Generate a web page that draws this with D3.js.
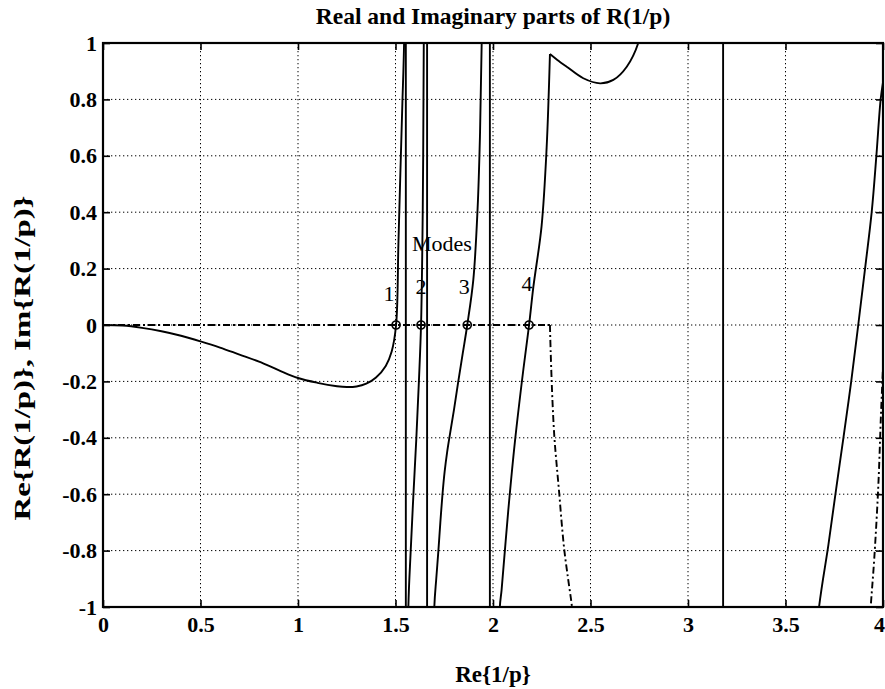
<!DOCTYPE html>
<html><head><meta charset="utf-8">
<script src="https://cdn.jsdelivr.net/npm/d3@7"></script>
<style>
body{margin:0;background:#fff;}
text{font-family:"Liberation Serif","Times New Roman",serif;fill:#000;}
</style></head>
<body><svg id="c" width="885" height="689"></svg>
<script>
// ---- data ----
const xTicks = [0, 0.5, 1, 1.5, 2, 2.5, 3, 3.5, 4];
const xTickLabels = ["0", "0.5", "1", "1.5", "2", "2.5", "3", "3.5", "4"];
const yTicks = [-1, -0.8, -0.6, -0.4, -0.2, 0, 0.2, 0.4, 0.6, 0.8, 1];
const yTickLabels = ["-1", "-0.8", "-0.6", "-0.4", "-0.2", "0", "0.2", "0.4", "0.6", "0.8", "1"];

// Real part (solid); null separates branches, values beyond +/-1 are clipped
const realX = [0,0.1,0.2,0.3,0.4,0.5,0.6,0.7,0.8,0.9,1.0,1.1,1.2,1.25,1.3,1.35,1.4,1.45,1.48,1.503,1.515,1.525,1.535,1.544,1.55, null,
  1.562,1.566,1.578,1.592,1.607,1.62,1.631,1.638,1.642,1.645,1.652, null,
  1.688,1.699,1.709,1.72,1.73,1.741,1.752,1.765,1.781,1.8,1.822,1.845,1.868,1.899,1.921,1.933,1.942,1.955, null,
  2.025,2.035,2.044,2.078,2.113,2.156,2.185,2.207,2.249,2.275,2.292, null,
  2.292,2.33,2.378,2.463,2.549,2.617,2.686,2.745,2.8, null,
  3.6,3.672,3.72,3.76,3.797,3.837,3.873,3.908,3.942,3.966,3.988,4.0];
const realY = [0,-0.002,-0.01,-0.022,-0.038,-0.058,-0.08,-0.105,-0.13,-0.16,-0.188,-0.205,-0.217,-0.22,-0.218,-0.208,-0.186,-0.145,-0.095,0,0.29,0.54,0.78,1.0,1.6, null,
  -1.6,-1.0,-0.8,-0.6,-0.4,-0.2,0,0.3,0.6,1.0,1.6, null,
  -1.6,-1.0,-0.9,-0.8,-0.7,-0.6,-0.52,-0.45,-0.38,-0.3,-0.2,-0.1,0,0.16,0.413,0.667,1.0,1.6, null,
  -1.6,-1.0,-0.94,-0.66,-0.41,-0.156,0,0.135,0.35,0.628,0.961, null,
  0.961,0.94,0.916,0.875,0.857,0.869,0.916,1.0,1.2, null,
  -1.5,-1.0,-0.78,-0.58,-0.4,-0.2,0,0.2,0.4,0.6,0.8,0.86];
// Poles of the real part (drawn as full-height vertical jumps)
const poleX = [1.553, 1.662, 1.984, 3.18];

// Imaginary part (dash-dot)
const imagX = [0,2.292, null, 2.292,2.296,2.305,2.315,2.327,2.34,2.352,2.366,2.385,2.405,2.43, null, 3.92,3.937,3.955,3.976,3.99,4.0];
const imagY = [0,0, null, 0,-0.1,-0.27,-0.4,-0.5,-0.6,-0.7,-0.8,-0.9,-1.0,-1.2, null, -1.2,-1.0,-0.83,-0.57,-0.31,-0.15];

// Modes (zeros of the real part)
const modeX = [1.503, 1.631, 1.868, 2.185];
const modeY = [0, 0, 0, 0];
const modeLabels = ["1", "2", "3", "4"];

// ---- helpers ----
function branches(xs, ys) {
  const out = []; let cur = [];
  xs.forEach((v, i) => {
    if (v === null) { if (cur.length) out.push(cur); cur = []; }
    else cur.push([v, ys[i]]);
  });
  if (cur.length) out.push(cur);
  return out;
}

// ---- drawing ----
const svg = d3.select("#c");
const L = 103, R = 883, T = 43, B = 607;
const x = d3.scaleLinear().domain([0, 4]).range([L, R]);
const y = d3.scaleLinear().domain([-1, 1]).range([B, T]);
const FONT = "'Liberation Serif', 'Times New Roman', serif";

svg.append("defs").append("clipPath").attr("id", "clip")
  .append("rect").attr("x", L).attr("y", T).attr("width", R - L).attr("height", B - T);

// grid
const grid = svg.append("g").attr("stroke", "#000").attr("stroke-width", 1).attr("stroke-dasharray", "1.3,2.7");
grid.selectAll("line.gx").data(xTicks.slice(1, -1)).join("line")
  .attr("x1", d => x(d)).attr("x2", d => x(d)).attr("y1", T).attr("y2", B);
grid.selectAll("line.gy").data(yTicks.slice(1, -1)).join("line")
  .attr("y1", d => y(d)).attr("y2", d => y(d)).attr("x1", L).attr("x2", R);

// axes (inward ticks)
const ax = svg.append("g").attr("transform", `translate(0,${B})`)
  .call(d3.axisBottom(x).tickValues(xTicks).tickFormat((d, i) => xTickLabels[i]).tickSizeInner(-7).tickSizeOuter(0).tickPadding(9));
const axT = svg.append("g").attr("transform", `translate(0,${T})`)
  .call(d3.axisTop(x).tickValues(xTicks).tickFormat("").tickSizeInner(-7).tickSizeOuter(0));
const ay = svg.append("g").attr("transform", `translate(${L},0)`)
  .call(d3.axisLeft(y).tickValues(yTicks).tickFormat((d, i) => yTickLabels[i]).tickSizeInner(-7).tickSizeOuter(0).tickPadding(6));
const ayR = svg.append("g").attr("transform", `translate(${R},0)`)
  .call(d3.axisRight(y).tickValues(yTicks).tickFormat("").tickSizeInner(-7).tickSizeOuter(0));
[ax, axT, ay, ayR].forEach(g => {
  g.select(".domain").remove();
  g.selectAll(".tick line").attr("stroke", "#000").attr("stroke-width", 1.6);
  g.selectAll("text").style("font-size", "22px").style("font-weight", "bold")
    .style("font-family", FONT).attr("fill", "#000");
});
// keep the last x label inside the window
ax.selectAll(".tick text").filter((d, i) => i === xTicks.length - 1).attr("dx", "-4");

// curves
const line = d3.line().x(d => x(d[0])).y(d => y(d[1])).curve(d3.curveCatmullRom.alpha(0.5));
const plot = svg.append("g").attr("clip-path", "url(#clip)");
plot.selectAll("path.im").data(branches(imagX, imagY)).join("path")
  .attr("d", line).attr("fill", "none").attr("stroke", "#000").attr("stroke-width", 1.9)
  .attr("stroke-dasharray", "7,3,2,3");
plot.selectAll("path.re").data(branches(realX, realY)).join("path")
  .attr("d", line).attr("fill", "none").attr("stroke", "#000").attr("stroke-width", 1.9)
  .attr("stroke-linejoin", "round");
plot.selectAll("line.pole").data(poleX).join("line")
  .attr("x1", d => x(d)).attr("x2", d => x(d)).attr("y1", y(1)).attr("y2", y(-1))
  .attr("stroke", "#000").attr("stroke-width", 1.9);

// frame
svg.append("rect").attr("x", L).attr("y", T).attr("width", R - L).attr("height", B - T)
  .attr("fill", "none").attr("stroke", "#000").attr("stroke-width", 2.2);

// mode markers
svg.selectAll("circle.m").data(modeX).join("circle")
  .attr("cx", d => x(d)).attr("cy", (d, i) => y(modeY[i])).attr("r", 4)
  .attr("fill", "none").attr("stroke", "#000").attr("stroke-width", 1.7);
const labelDx = [-7, 0, -3, -2];
const labelDy = [-24, -31, -31, -34];
svg.selectAll("text.ml").data(modeX).join("text")
  .attr("x", (d, i) => x(d) + labelDx[i]).attr("y", (d, i) => y(modeY[i]) + labelDy[i])
  .attr("text-anchor", "middle").style("font-size", "22px").text((d, i) => modeLabels[i]);
svg.append("text").attr("x", 442).attr("y", y(0.263))
  .attr("text-anchor", "middle").style("font-size", "22px").text("Modes");

// titles
svg.append("text").attr("x", (L + R) / 2).attr("y", 24).attr("text-anchor", "middle")
  .style("font-size", "23.5px").style("font-weight", "bold").text("Real and Imaginary parts of R(1/p)");
svg.append("text").attr("x", (L + R) / 2).attr("y", 682).attr("text-anchor", "middle")
  .style("font-size", "23px").style("font-weight", "bold").text("Re{1/p}");
svg.append("text").attr("transform", `translate(30,358) rotate(-90)`).attr("text-anchor", "middle")
  .attr("textLength", 325).attr("lengthAdjust", "spacingAndGlyphs")
  .style("font-size", "23px").style("font-weight", "bold").text("Re{R(1/p)}, Im{R(1/p)}");
</script></body></html>
